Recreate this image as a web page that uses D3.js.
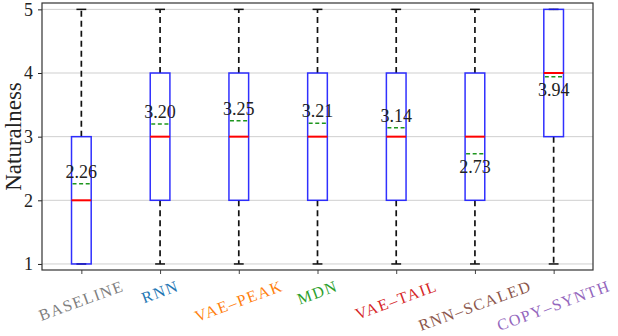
<!DOCTYPE html>
<html lang="en">
<head>
<meta charset="UTF-8">
<title>Naturalness</title>
<script src="https://d3js.org/d3.v7.min.js"></script>
<style>
    body {margin: 0; background: white;}
    text {font-family: "Liberation Serif", "DejaVu Serif", serif;}
</style>
</head>
<body>
<script>
    const width = 618;
    const height = 336;

    // data
    const systems = ["BASELINE", "RNN", "VAE–PEAK", "MDN", "VAE–TAIL", "RNN–SCALED", "COPY–SYNTH"];
    const labelColors = ["#7f7f7f", "#1f77b4", "#ff7f0e", "#2ca02c", "#d62728", "#8c564b", "#9467bd"];
    const whiskerLow = [1, 1, 1, 1, 1, 1, 1];
    const q1 = [1, 2, 2, 2, 2, 2, 3];
    const medians = [2, 3, 3, 3, 3, 3, 4];
    const q3 = [3, 4, 4, 4, 4, 4, 5];
    const whiskerHigh = [5, 5, 5, 5, 5, 5, 5];
    const means = [2.26, 3.20, 3.25, 3.21, 3.14, 2.73, 3.94];
    const labelBelow = [false, false, false, false, false, true, true];
    const yTicks = [1, 2, 3, 4, 5];

    const margin = {left: 42, right: 25, top: 3, bottom: 66};

    const svg = d3.select("body").append("svg")
            .attr("width", width).attr("height", height);

    const x = d3.scaleLinear().domain([0.5, 7.5]).range([margin.left, width - margin.right]);
    const y = d3.scaleLinear().domain([0.905, 5.1]).range([height - margin.bottom, margin.top]);

    const boxW = x(1.25) - x(1);
    const capW = boxW / 2;

    // grid
    svg.append("g").selectAll("line.grid")
            .data(yTicks).enter().append("line")
            .attr("x1", x(0.5)).attr("x2", x(7.5))
            .attr("y1", d => y(d)).attr("y2", d => y(d))
            .style("stroke", "#cfcfcf")
            .style("stroke-width", 1);

    const boxes = svg.selectAll("g.box")
            .data(systems.map((s, i) => ({name: s, i: i, pos: i + 1})))
            .enter().append("g").attr("class", "box");

    // whiskers
    boxes.append("line")
            .attr("x1", d => x(d.pos)).attr("x2", d => x(d.pos))
            .attr("y1", d => y(q3[d.i])).attr("y2", d => y(whiskerHigh[d.i]))
            .style("stroke", "#111").style("stroke-width", 1.7)
            .style("stroke-dasharray", "6,4");
    boxes.append("line")
            .attr("x1", d => x(d.pos)).attr("x2", d => x(d.pos))
            .attr("y1", d => y(q1[d.i])).attr("y2", d => y(whiskerLow[d.i]))
            .style("stroke", "#111").style("stroke-width", 1.7)
            .style("stroke-dasharray", "6,4");

    // caps
    [whiskerLow, whiskerHigh].forEach(arr => {
        boxes.append("line")
                .attr("x1", d => x(d.pos) - capW / 2).attr("x2", d => x(d.pos) + capW / 2)
                .attr("y1", d => y(arr[d.i])).attr("y2", d => y(arr[d.i]))
                .style("stroke", "#111").style("stroke-width", 1.5);
    });

    // boxes
    boxes.append("rect")
            .attr("x", d => x(d.pos) - boxW / 2)
            .attr("width", boxW)
            .attr("y", d => y(q3[d.i]))
            .attr("height", d => y(q1[d.i]) - y(q3[d.i]))
            .style("fill", "none")
            .style("stroke", "#1a1aff")
            .style("stroke-opacity", 0.9)
            .style("stroke-width", 1.5);

    // medians
    boxes.append("line")
            .attr("x1", d => x(d.pos) - boxW / 2).attr("x2", d => x(d.pos) + boxW / 2)
            .attr("y1", d => y(medians[d.i])).attr("y2", d => y(medians[d.i]))
            .style("stroke", "#ff0000").style("stroke-width", 2);

    // means
    boxes.append("line")
            .attr("x1", d => x(d.pos) - boxW / 2 + 1).attr("x2", d => x(d.pos) + boxW / 2 - 1)
            .attr("y1", d => y(means[d.i])).attr("y2", d => y(means[d.i]))
            .style("stroke", "#1e961e").style("stroke-width", 1.5)
            .style("stroke-dasharray", "4,2.6");

    boxes.append("text")
            .attr("x", d => x(d.pos))
            .attr("y", d => y(means[d.i]) + (labelBelow[d.i] ? 19 : -6))
            .attr("text-anchor", "middle")
            .style("font-size", "18px")
            .style("fill", "#222")
            .text(d => means[d.i].toFixed(2));

    // axes
    const yAxis = svg.append("g")
            .attr("transform", `translate(${x(0.5)},0)`)
            .call(d3.axisLeft(y).tickValues(yTicks).tickSize(4).tickPadding(5).tickFormat(d3.format("d")));
    yAxis.select(".domain").remove();
    yAxis.selectAll("text").style("font-size", "18px").style("fill", "#222")
            .style("font-family", "'Liberation Serif', serif");
    yAxis.selectAll(".tick line").style("stroke", "#222");

    const xAxis = svg.append("g")
            .attr("transform", `translate(0,${y.range()[0]})`)
            .call(d3.axisBottom(x).tickValues(d3.range(1, 8)).tickSize(4).tickFormat(""));
    xAxis.select(".domain").remove();
    xAxis.selectAll(".tick line").style("stroke", "#444");

    // frame
    svg.append("rect")
            .attr("x", x(0.5)).attr("y", y(5.1))
            .attr("width", x(7.5) - x(0.5))
            .attr("height", y(0.905) - y(5.1))
            .style("fill", "none")
            .style("stroke", "#333")
            .style("stroke-width", 1.2);

    // y label
    svg.append("text")
            .attr("transform", `translate(21,${(y.range()[0] + y.range()[1]) / 2}) rotate(-90)`)
            .attr("text-anchor", "middle")
            .style("font-size", "23px")
            .style("fill", "#222")
            .text("Naturalness");

    // rotated x labels, top of rotated box aligned under ticks
    const angle = 20;
    const rad = angle * Math.PI / 180;
    const labelTop = y.range()[0] + 10;
    systems.forEach((s, i) => {
        const t = svg.append("text")
                .attr("text-anchor", "middle")
                .attr("dominant-baseline", "central")
                .style("font-size", "16px")
                .style("letter-spacing", "1.5px")
                .style("fill", labelColors[i])
                .text(s);
        const w = t.node().getComputedTextLength();
        const h = 11;
        const bh = w * Math.sin(rad) + h * Math.cos(rad);
        const cx = x(i + 1);
        const cy = labelTop + bh / 2;
        t.attr("transform", `translate(${cx},${cy}) rotate(${-angle})`);
    });
</script>
</body>
</html>
